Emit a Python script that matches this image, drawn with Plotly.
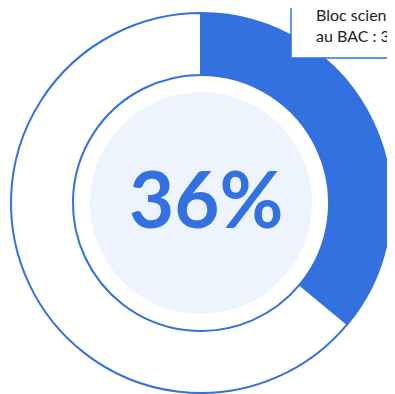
import plotly.graph_objects as go

# data
labels = ["Bloc scientifique", "Autres"]
values = [36, 64]
center_label = "36%"
box_lines = ["Bloc scientifique", "au BAC : 36%"]

BLUE = "#3370E0"
W, H = 395, 394
OFF = 8  # page body margin


def px_x(x):
    return (x - OFF) / W


def px_y(y):
    return 1 - (y - OFF) / H


fig = go.Figure(go.Pie(
    labels=labels,
    values=values,
    hole=0.674,
    sort=False,
    direction="clockwise",
    rotation=0,
    marker=dict(colors=[BLUE, "white"], line=dict(color=BLUE, width=2)),
    textinfo="none",
    hoverinfo="label+percent",
    domain=dict(x=[px_x(11), px_x(391)], y=[px_y(393), px_y(13)]),
    showlegend=False,
))

# light disc inside the hole
fig.add_shape(type="circle", xref="paper", yref="paper",
              x0=px_x(90), x1=px_x(312), y0=px_y(314), y1=px_y(92),
              fillcolor="#EEF4FD", line=dict(width=0), layer="above")

# caption box, partly off the page
fig.add_shape(type="rect", xref="paper", yref="paper",
              x0=px_x(291), x1=px_x(470), y0=px_y(58), y1=px_y(-20),
              fillcolor="white", line=dict(color=BLUE, width=1.5), layer="above")

fig.add_annotation(x=px_x(206), y=px_y(198), xref="paper", yref="paper",
                   text="<b>%s</b>" % center_label, showarrow=False,
                   font=dict(family="Lato", size=78, color=BLUE))

fig.add_annotation(x=px_x(314), y=px_y(3), xref="paper", yref="paper",
                   xanchor="left", yanchor="top", align="left",
                   text="<br>".join(box_lines), showarrow=False,
                   font=dict(family="Lato", size=16, color="#222222"))

fig.update_layout(width=W, height=H, margin=dict(l=0, r=0, t=0, b=0),
                  paper_bgcolor="white", plot_bgcolor="white")

fig.write_html("out.html")
